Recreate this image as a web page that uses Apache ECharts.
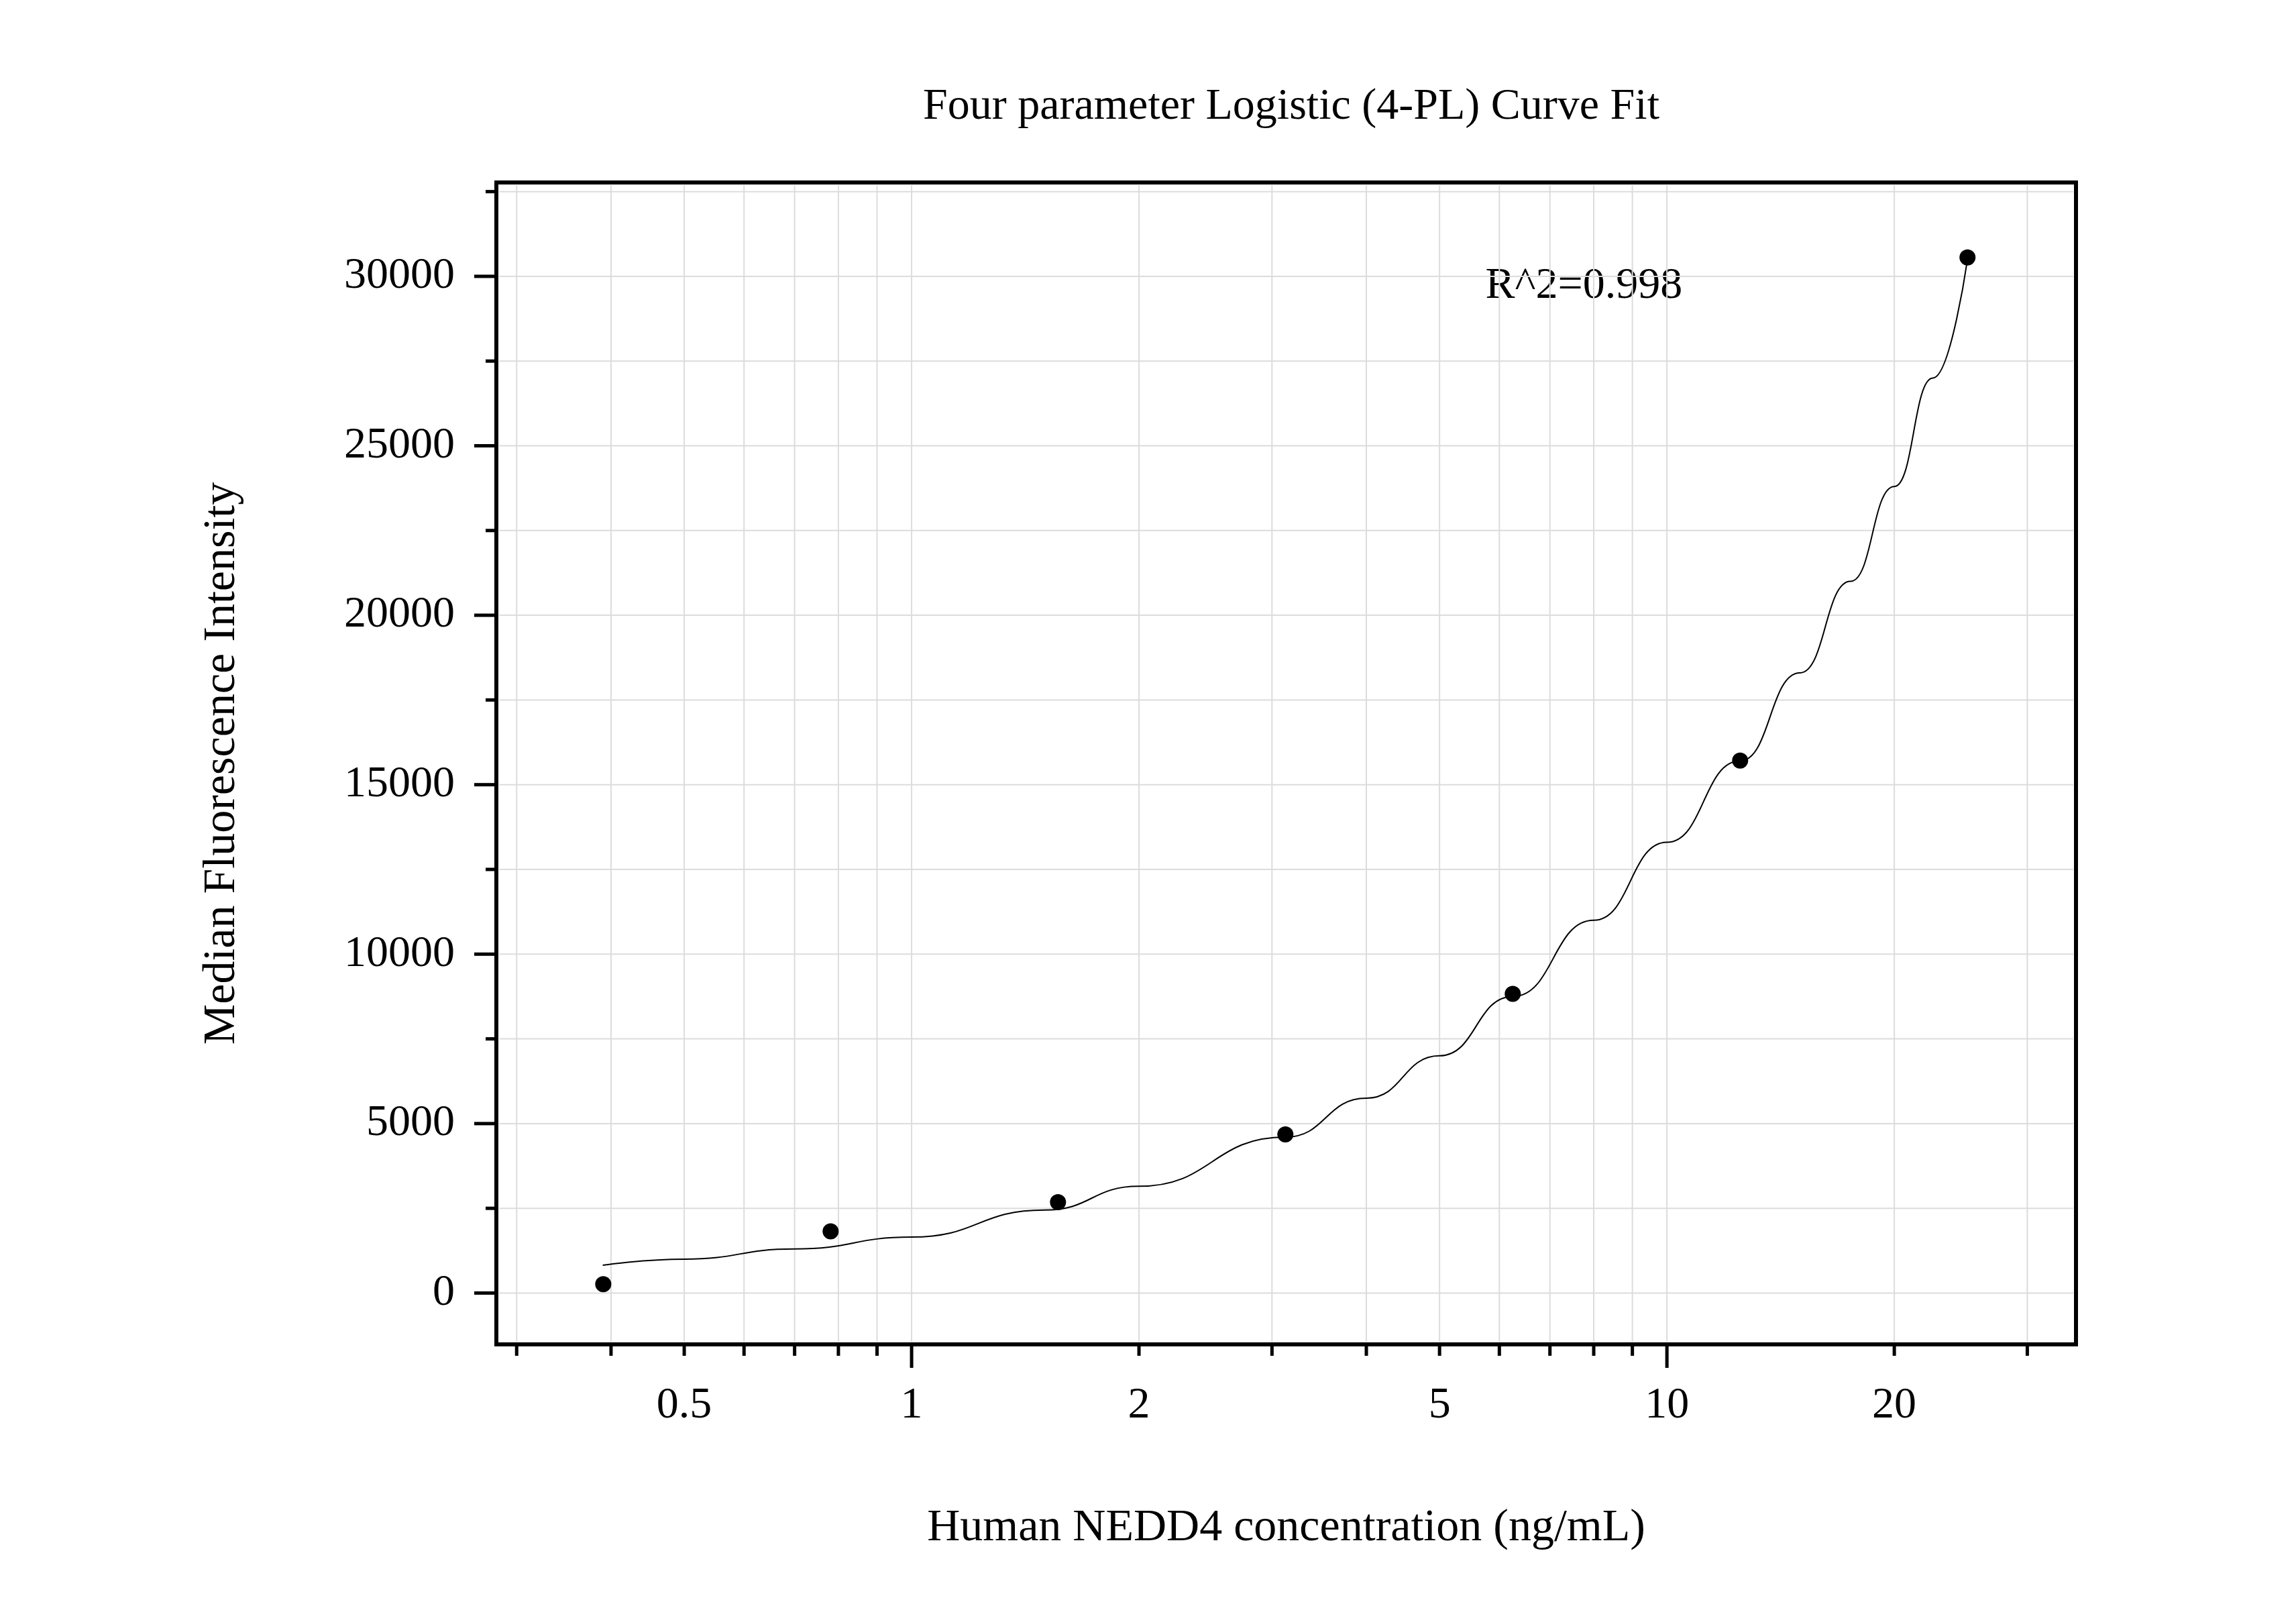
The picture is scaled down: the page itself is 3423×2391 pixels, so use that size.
<!DOCTYPE html>
<html><head><meta charset="utf-8">
<script src="https://cdn.jsdelivr.net/npm/echarts@6/dist/echarts.min.js"></script>
<style>html,body{margin:0;padding:0;background:#fff}#c{width:3423px;height:2391px}</style>
</head><body><div id="c"></div>
<script>
const conc = [0.390625, 0.78125, 1.5625, 3.125, 6.25, 12.5, 25];
const mfi = [260, 1820, 2680, 4680, 8830, 15710, 30560];
const fitX = [0.39, 0.5, 0.7, 1, 1.5, 2, 3.125, 4, 5, 6.25, 8, 10, 12.5, 15, 17.5, 20, 22.5, 25];
const fitY = [820, 1000, 1300, 1650, 2450, 3150, 4600, 5750, 7000, 8750, 11000, 13300, 15700, 18300, 21000, 23800, 27000, 30500];
const xTicks = [0.3,0.4,0.5,0.6,0.7,0.8,0.9,1,2,3,4,5,6,7,8,9,10,20,30];
const xMajor = [1, 10];
const xLabels = [0.5, 1, 2, 5, 10, 20];
const yTicks = [0,2500,5000,7500,10000,12500,15000,17500,20000,22500,25000,27500,30000,32500];
const yLabels = [0,5000,10000,15000,20000,25000,30000];
const X_MIN = 0.282, X_MAX = 34.8, Y_MIN = -1515, Y_MAX = 32770;
const F = 'Liberation Serif';

const chart = echarts.init(document.getElementById('c'));
function xTickItem(params, api){
  const v = api.value(0);
  const top = api.coord([v, Y_MAX]), bot = api.coord([v, Y_MIN]);
  const major = xMajor.includes(v);
  const ch = [
    {type:'line', shape:{x1:top[0],y1:top[1]+4,x2:bot[0],y2:bot[1]-4}, style:{stroke:'#dcdcdc',lineWidth:2}, z2:0},
    {type:'line', shape:{x1:bot[0],y1:bot[1]+3,x2:bot[0],y2:bot[1]+(major?35:17)}, style:{stroke:'#000',lineWidth:5}}
  ];
  if (xLabels.includes(v)) ch.push({type:'text', x:bot[0], y:bot[1]+92, style:{text:String(v), font:'66px "'+F+'"', fill:'#000', align:'center', verticalAlign:'middle'}});
  return {type:'group', children:ch};
}
function yTickItem(params, api){
  const v = api.value(1);
  const l = api.coord([X_MIN, v]), r = api.coord([X_MAX, v]);
  const major = yLabels.includes(v);
  const ch = [
    {type:'line', shape:{x1:l[0]+4,y1:l[1],x2:r[0]-4,y2:r[1]}, style:{stroke:'#dcdcdc',lineWidth:2}},
    {type:'line', shape:{x1:l[0]-3,y1:l[1],x2:l[0]-(major?33:16),y2:l[1]}, style:{stroke:'#000',lineWidth:5}}
  ];
  if (major) ch.push({type:'text', x:l[0]-62, y:l[1], style:{text:String(v), font:'66px "'+F+'"', fill:'#000', align:'right', verticalAlign:'middle'}});
  return {type:'group', children:ch};
}
chart.setOption({
  animation:false,
  title:{text:'Four parameter Logistic (4-PL) Curve Fit', left:1920, top:122, textAlign:'center',
    textStyle:{fontFamily:F, fontSize:66, fontWeight:'normal', color:'#000'}},
  grid:{left:740, right:328, top:272, bottom:387, show:true, borderColor:'#000', borderWidth:6, backgroundColor:'transparent'},
  xAxis:{type:'log', logBase:10, min:X_MIN, max:X_MAX, axisLabel:{show:false}, axisTick:{show:false},
    splitLine:{show:false}, minorSplitLine:{show:false}, axisLine:{show:false},
    name:'Human NEDD4 concentration (ng/mL)', nameLocation:'middle', nameGap:240,
    nameTextStyle:{fontFamily:F, fontSize:68, color:'#000'}},
  yAxis:{type:'value', min:Y_MIN, max:Y_MAX, axisLabel:{show:false}, axisTick:{show:false},
    splitLine:{show:false}, axisLine:{show:false},
    name:'Median Fluorescence Intensity', nameLocation:'middle', nameGap:375,
    nameTextStyle:{fontFamily:F, fontSize:68, color:'#000'}},
  series:[
    {type:'custom', renderItem:xTickItem, data:xTicks.map(v=>[v, 0]), silent:true, z:1, clip:false},
    {type:'custom', renderItem:yTickItem, data:yTicks.map(v=>[1, v]), silent:true, z:1, clip:false},
    {type:'line', data:fitX.map((x,i)=>[x, fitY[i]]), smooth:true, smoothMonotone:'x', symbol:'none', lineStyle:{color:'#000', width:2}, z:3},
    {type:'scatter', data:conc.map((x,i)=>[x, mfi[i]]), symbolSize:24, itemStyle:{color:'#000', opacity:1}, z:4}
  ]
});
const p = chart.convertToPixel({gridIndex:0}, [5.75, 29700]);
chart.setOption({graphic:[{type:'text', x:p[0], y:p[1], style:{text:'R^2=0.998', font:'66px "'+F+'"', fill:'#000', verticalAlign:'middle'}}]});
</script></body></html>
